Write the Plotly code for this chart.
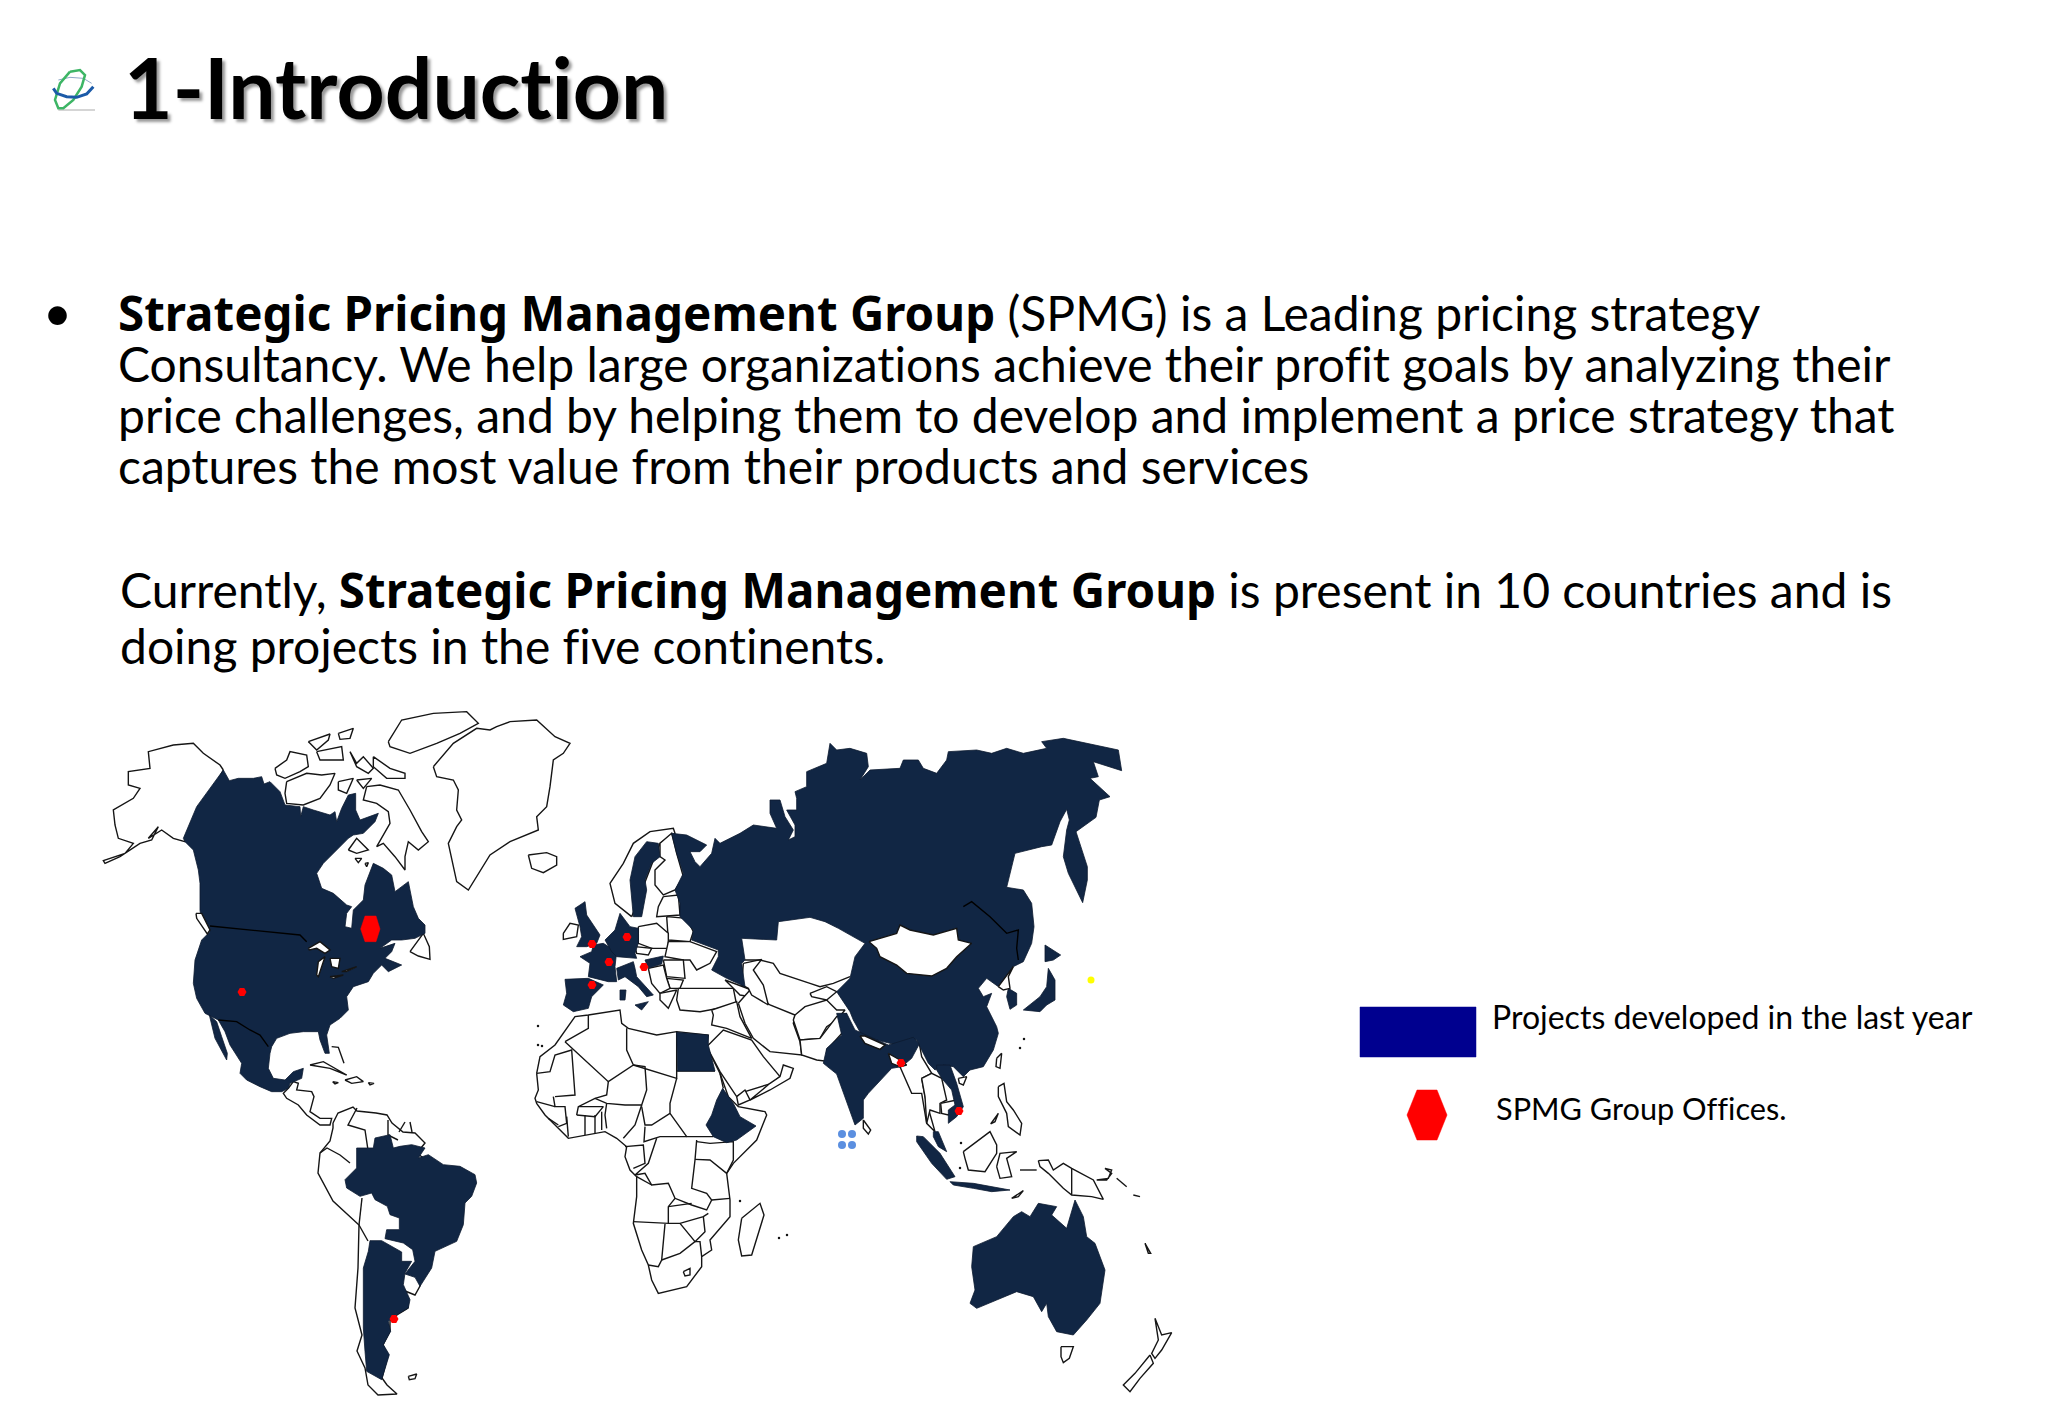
# -*- coding: utf-8 -*-
# 1-Introduction slide - SPMG world map
# No topojson without network, so the map outlines are traced off the picture (px in zoomed crops)

import plotly.graph_objects as go

NAVY = '#112644'
INK = '#151515'
FONT = 'Lato'
BOLD_OPEN = '<span style="font-family:\'Noto Sans\';font-weight:bold;font-size:47.5px">'

# Text
title_text = '1-Introduction'
body_lines = ['<b>Strategic Pricing Management Group</b> (SPMG) is a Leading pricing strategy',
              'Consultancy. We help large organizations achieve their profit goals by analyzing their',
              'price challenges, and by helping them to develop and implement a price strategy that',
              'captures the most value from their products and services']
current_lines = ['Currently, <b>Strategic Pricing Management Group</b> is present in 10 countries and is',
                 'doing projects in the five continents.']
legend_labels = ['Projects developed in the last year', 'SPMG Group Offices.']

# Crop origins, 3x zoom
NA = (90, 710)
SA = (300, 1118)
EU = (520, 820)
AF = (520, 1000)
AS = (670, 730)
OC = (800, 950)

# Offices, picture px
office_x = [242, 592, 627, 609, 592, 644, 901, 959, 394]
office_y = [992, 944, 937, 962, 985, 967, 1063, 1111, 1319]
blue_dot_x = [842, 852, 842, 852]
blue_dot_y = [1134, 1134, 1145, 1145]

# Project countries
usa_canada = [(400,180),(418,212),(445,205),(490,205),(515,200),(522,222),(540,215),(570,245),(585,285),(630,290),
              (632,320),(640,290),(670,300),(720,315),(735,305),(740,335),(755,295),(775,255),(797,250),(797,300),
              (810,330),(865,310),(855,335),(820,370),(790,375),(775,385),(740,420),(700,460),(680,490),(695,535),
              (730,550),(770,585),(785,590),(770,610),(765,650),(785,655),(790,600),(820,570),(825,525),(850,460),
              (880,475),(905,495),(915,545),(955,515),(970,590),(985,625),(1005,645),(1005,670),(975,685),(935,690),
              (905,690),(870,715),(915,700),(905,725),(885,745),(935,765),(895,785),(875,765),(850,790),(835,815),
              (790,830),(770,860),(775,900),(750,925),(720,945),(710,975),(718,1030),(705,1030),(690,990),(685,965),
              (640,965),(600,970),(560,985),(545,1010),(540,1030),(535,1075),(550,1105),(585,1110),(610,1085),
              (640,1075),(635,1105),(600,1120),(595,1135),(575,1145),(545,1145),(510,1130),(470,1110),(450,1090),
              (455,1060),(420,1005),(405,965),(385,930),(355,915),(345,910),(320,865),(310,820),(315,750),(335,690),
              (360,665),(335,640),(330,600),(330,520),(325,480),(310,420),(285,395),(280,385),(320,290),(370,220)]
baja = [(358,915),(375,985),(410,1050),(412,1030),(395,980),(380,935)]
brazil = [(135,185),(170,150),(170,90),(220,90),(225,60),(270,50),(280,90),(300,85),(335,80),(375,90),(355,120),
          (385,110),(430,140),(480,145),(525,170),(530,195),(515,235),(495,255),(490,320),(470,370),(405,400),
          (395,450),(360,505),(345,478),(315,468),(345,430),(338,395),(310,375),(255,362),(260,335),(298,335),
          (298,300),(270,290),(262,265),(225,245),(215,225),(180,235),(140,210)]
argentina = [(210,368),(245,368),(305,402),(305,430),(335,430),(315,465),(310,500),(330,545),(325,570),(290,590),
             (265,610),(272,640),(250,680),(268,710),(245,785),(200,760),(195,700),(190,630),(190,450),(205,400)]
uk = [(165,265),(195,245),(200,285),(240,345),(230,370),(200,380),(170,380),(185,350),(180,320)]
france = [(180,410),(215,395),(220,375),(250,370),(290,395),(285,440),(290,485),(265,485),(205,470),(210,430)]
iberia = [(135,478),(205,475),(250,495),(215,530),(205,565),(160,575),(130,555),(140,520)]
germany_benelux = [(255,360),(285,330),(300,280),(330,320),(355,325),(355,370),(345,400),(350,415),(290,410),(275,395)]
sweden = [(330,180),(345,110),(380,65),(415,70),(420,110),(395,130),(375,180),(380,210),(365,290),(340,290)]
italy = [(290,445),(340,425),(345,445),(350,470),(400,525),(380,530),(355,500),(315,470),(295,480)]
hungary = [(375,420),(430,408),(425,432),(385,445)]
sicily = [(345,555),(385,545),(365,570)]
sardinia = [(300,510),(318,510),(315,540),(300,540)]
eurasia = [(5,310),(50,315),(110,345),(90,365),(60,365),(75,395),(90,410),(125,370),(135,325),(150,340),(210,310),
           (250,285),(320,295),(300,250),(300,210),(330,210),(345,260),(370,300),(355,330),(375,320),(375,285),
           (350,240),(380,240),(380,205),(375,185),(410,170),(410,125),(470,100),(480,40),(500,60),(540,55),(590,70),
           (595,110),(570,150),(600,120),(690,115),(700,90),(745,90),(760,115),(800,130),(830,90),(835,65),(920,60),
           (965,70),(1010,55),(1060,70),(1130,55),(1115,35),(1180,25),(1250,40),(1300,50),(1345,60),(1355,122),
           (1270,95),(1285,140),(1260,145),(1320,200),(1288,210),(1278,262),(1218,305),(1252,410),(1252,450),
           (1238,518),(1195,430),(1180,380),(1190,300),(1198,270),(1190,238),(1170,275),(1145,345),(1115,350),
           (1035,370),(1010,472),(1060,480),(1085,520),(1092,590),(1085,640),(1060,695),(1030,710),(985,770),
           (950,745),(925,775),(940,800),(965,790),(950,830),(980,890),(985,910),(970,960),(940,1010),(900,1020),
           (880,1040),(850,1010),(820,1005),(795,1020),(775,1000),(740,930),(725,925),(680,945),(600,925),(575,915),
           (550,870),(540,845),(500,785),(540,745),(555,680),(585,640),(505,595),(465,575),(420,562),(325,575),
           (320,630),(215,625),(225,690),(215,700),(225,770),(170,745),(125,720),(145,680),(145,660),(65,630),
           (70,600),(30,560),(30,520),(15,480),(40,430),(20,370)]
hokkaido = [(1125,645),(1150,660),(1172,675),(1150,690),(1125,695)]
honshu = [(1135,715),(1155,750),(1155,810),(1130,825),(1110,845),(1060,840),(1110,800),(1130,770)]
south_korea = [(1015,775),(1040,790),(1040,825),(1020,838),(1010,800)]
india = [(110,190),(140,190),(165,240),(265,285),(340,262),(358,282),(335,325),(305,350),(275,355),(205,430),(190,450),
         (190,505),(165,525),(135,440),(110,372),(70,340),(80,295),(125,255)]
vietnam = [(410,345),(450,345),(470,400),(490,470),(470,500),(445,520),(445,480),(465,465),(455,420),(425,385),(410,360)]
malay = [(400,545),(415,545),(440,605),(415,590),(400,560)]
sumatra = [(350,558),(370,560),(420,610),(465,680),(440,688),(395,640),(350,575)]
java = [(450,695),(520,700),(630,720),(575,725),(520,715),(460,705)]
australia = [(515,950),(520,890),(590,860),(640,800),(665,785),(690,800),(715,760),(770,770),(755,795),(800,835),
             (825,750),(850,800),(860,860),(885,880),(915,960),(900,1060),(860,1110),(820,1155),(770,1145),(745,1100),
             (740,1060),(725,1085),(700,1040),(650,1025),(590,1050),(530,1075),(510,1060),(525,1020)]
egypt = [(470,97),(565,105),(565,135),(585,213),(473,213)]
ethiopia = [(608,265),(640,310),(655,340),(660,350),(708,378),(650,420),(620,428),(580,410),(558,375),(575,345),(590,300)]

navy_shapes = [(usa_canada, NA), (baja, NA), (brazil, SA), (argentina, SA), (uk, EU), (france, EU), (iberia, EU),
               (germany_benelux, EU), (sweden, EU), (italy, EU), (hungary, EU), (sicily, EU), (sardinia, EU),
               (eurasia, AS), (hokkaido, AS), (honshu, AS), (south_korea, AS), (india, OC), (vietnam, OC),
               (malay, OC), (sumatra, OC), (java, OC), (australia, OC), (egypt, AF), (ethiopia, AF)]

# White land - North America
alaska = [(400,180),(390,165),(340,130),(310,100),(250,105),(175,125),(180,175),(115,185),(115,225),(150,235),(130,265),
          (70,300),(75,345),(85,385),(130,400),(105,430),(40,452),(45,460),(90,440),(150,400),(185,390),(205,350),
          (175,385),(215,360),(250,385),(285,395)]
greenland = [(1030,170),(1090,100),(1160,55),(1200,60),(1220,50),(1260,35),(1340,30),(1395,80),(1440,100),(1420,130),
             (1390,150),(1380,230),(1370,290),(1340,320),(1345,360),(1260,395),(1200,435),(1165,490),(1135,540),
             (1100,515),(1085,450),(1075,400),(1100,350),(1115,330),(1100,300),(1105,240),(1090,210),(1040,200)]
iceland = [(1315,435),(1370,428),(1400,440),(1400,465),(1360,488),(1325,475)]
arctic_1 = [(555,175),(590,150),(600,125),(650,135),(655,170),(630,185),(585,205),(560,195)]
arctic_2 = [(590,215),(650,190),(695,195),(735,190),(720,225),(690,265),(640,285),(590,280),(585,250)]
arctic_3 = [(655,95),(720,72),(715,90),(680,120),(660,100)]
arctic_4 = [(745,70),(790,55),(780,85),(750,88)]
arctic_5 = [(680,125),(755,110),(760,150),(690,150)]
arctic_6 = [(780,125),(800,160),(820,140),(850,175),(835,190),(800,170)]
ellesmere = [(895,95),(935,30),(1030,10),(1130,5),(1165,40),(1110,70),(1040,100),(960,130),(900,110)]
devon = [(850,140),(900,175),(945,190),(945,205),(890,205),(850,170)]
baffin = [(830,230),(870,225),(925,240),(960,300),(995,365),(1015,395),(985,420),(955,395),(945,440),(945,480),(915,440),
          (880,400),(860,410),(900,340),(895,305),(860,280),(820,270)]
southampton = [(775,420),(800,385),(835,420),(800,430)]
arctic_7 = [(745,215),(790,205),(770,250),(745,240)]
arctic_8 = [(800,210),(845,205),(820,235)]
hudson_1 = [(795,445),(815,445),(805,458)]
hudson_2 = [(825,460),(835,458),(830,470)]
newfoundland = [(960,725),(1000,670),(1018,710),(1020,748),(985,738)]
vancouver = [(318,610),(335,610),(360,660),(352,672),(320,625)]
superior = [(655,715),(690,695),(720,720),(705,730),(680,715),(658,720)]
michigan = [(680,795),(685,755),(705,740),(695,770),(685,800)]
huron = [(720,745),(750,745),(745,775),(725,770)]
erie = [(720,800),(760,795),(730,805)]
ontario = [(755,785),(800,770),(770,785)]
cuba = [(660,1065),(700,1055),(770,1095),(720,1075)]
hispaniola = [(765,1110),(800,1100),(820,1115),(785,1120)]
jamaica = [(728,1115),(745,1118),(735,1122)]
puerto_rico = [(835,1118),(852,1120),(840,1125)]
central_america = [(595,1135),(610,1115),(625,1120),(620,1140),(665,1145),(672,1160),(660,1205),(690,1225),(725,1225),
                   (720,1245),(690,1245),(650,1215),(625,1185),(590,1165),(580,1150)]
south_america = [(333,1123),(338,1113),(353,1107),(357,1111),(376,1113),(387,1115),(392,1123),(403,1132),(415,1133),
                 (425,1143),(417,1153),(432,1165),(432,1225),(420,1286),(415,1295),(405,1291),(408,1300),(408,1308),
                 (397,1315),(390,1321),(390,1331),(383,1345),(388,1355),(382,1378),(387,1385),(397,1394),(378,1395),
                 (368,1385),(365,1368),(357,1351),(362,1335),(355,1308),(358,1268),(359,1225),(333,1201),(318,1173),
                 (320,1153),(330,1141),(333,1128)]
falkland = [(325,775),(350,768),(345,782),(328,785)]

# White land - Europe, Middle East (EU crop)
norway = [(335,290),(285,250),(270,190),(310,130),(340,70),(390,35),(460,25),(465,40),(420,70)]
finland = [(420,70),(455,40),(470,100),(490,170),(465,210),(430,225),(405,195),(405,150),(435,120),(420,110)]
baltics = [(430,230),(475,225),(480,285),(410,290),(415,260)]
belarus = [(440,290),(500,295),(520,335),(510,365),(445,360)]
poland = [(355,320),(410,310),(445,340),(445,385),(395,385),(355,370)]
czech = [(345,380),(395,385),(385,405),(350,400)]
ireland = [(130,340),(150,310),(175,315),(170,350),(130,358)]
ukraine = [(445,365),(510,365),(590,395),(570,430),(530,450),(510,420),(490,420),(435,410)]
romania = [(430,420),(490,420),(495,475),(440,470)]
bulgaria = [(440,475),(490,480),(480,505),(450,505)]
balkans = [(385,445),(430,435),(440,475),(450,505),(420,520),(395,490)]
greece = [(420,520),(470,510),(445,565),(420,540)]
turkey = [(475,505),(640,505),(650,555),(590,565),(540,575),(480,570),(470,540)]
caucasus = [(615,480),(670,500),(695,510),(690,530),(660,525),(640,505)]
syria_iraq = [(575,570),(650,545),(660,590),(695,655),(620,625),(575,615),(580,585)]
saudi = [(560,680),(610,630),(695,660),(730,710),(780,770),(755,790),(675,815),(650,830),(600,755)]
yemen = [(650,830),(675,810),(690,840),(655,855)]
oman = [(690,840),(750,790),(780,770),(790,735),(820,745),(810,775),(750,810)]

# White land - Africa (AF crop)
africa = [(50,220),(60,170),(105,135),(145,80),(165,50),(205,45),(300,30),(305,70),(325,85),(410,105),(470,95),(565,105),
          (560,140),(600,220),(625,290),(655,320),(735,335),(740,345),(710,420),(640,490),(620,520),(630,600),(630,650),
          (570,720),(575,750),(545,770),(545,800),(500,860),(415,880),(395,840),(385,795),(365,750),(340,670),(350,590),
          (350,530),(330,510),(315,470),(320,440),(290,415),(255,395),(195,405),(145,415),(115,385),(75,345),(50,310),
          (45,295),(55,270)]
madagascar = [(665,655),(720,610),(732,645),(695,765),(665,768),(655,720)]
lesotho = [(490,815),(510,805),(510,825),(495,828)]

# White land - Asia
mongolia = [(597,635),(680,610),(690,585),(720,600),(790,615),(860,595),(865,630),(905,640),(860,680),(830,715),(785,738),
            (710,730),(680,705),(630,680),(620,655)]
north_korea = [(985,770),(1030,710),(1015,740),(1020,775),(1000,780)]
taiwan = [(980,985),(995,970),(990,1015),(978,1010)]
hainan = [(865,1045),(890,1040),(880,1065),(868,1060)]
iran = [(205,820),(240,780),(300,825),(375,855),(370,880),(390,935),(395,975),(340,970),(300,965),(250,925),(225,880)]
afghanistan = [(375,855),(405,830),(470,810),(500,840),(525,840),(500,870),(470,890),(450,925),(390,930),(370,870)]
pakistan = [(390,930),(450,925),(500,860),(530,850),(510,880),(520,905),(470,960),(480,995),(440,990),(395,975)]
kyrgyz = [(420,790),(470,770),(500,785),(470,810),(425,800)]
caspian = [(220,700),(275,688),(250,720),(280,765),(295,825),(245,795),(235,775),(215,765)]
nepal = [(180,258),(195,258),(255,285),(240,298),(195,280)]
bangladesh = [(265,310),(300,330),(320,345),(300,350),(275,340)]
myanmar = [(330,295),(358,280),(365,320),(395,370),(365,385),(375,440),(395,510),(405,545),(380,520),(365,430),(335,430),(300,350)]
thailand = [(365,385),(395,370),(425,385),(440,450),(420,460),(420,490),(390,480),(380,520),(375,440)]
cambodia = [(422,460),(470,450),(465,475),(445,495),(425,490)]
borneo = [(490,605),(570,545),(590,585),(590,610),(555,665),(505,660),(495,625)]
sulawesi = [(590,650),(600,610),(650,605),(620,625),(635,680),(600,685)]
philippines = [(595,410),(612,400),(620,455),(640,480),(665,520),(660,555),(625,530),(620,490),(595,440)]
palawan = [(572,522),(595,490),(585,515)]
new_guinea = [(715,632),(745,630),(760,660),(790,640),(815,655),(880,690),(910,748),(875,740),(815,735),(790,715),(745,670),(720,650)]
new_britain = [(890,690),(925,685),(935,660),(915,655),(935,670),(920,690)]
timor = [(635,745),(670,722),(655,740)]
sri_lanka = [(190,510),(212,540),(205,552),(190,535)]
tasmania = [(783,1190),(820,1190),(808,1225),(790,1238),(783,1220)]
nz_north = [(1065,1105),(1085,1155),(1115,1148),(1085,1200),(1065,1225),(1055,1210),(1075,1170)]
nz_south = [(1050,1215),(1060,1240),(1020,1285),(990,1325),(970,1305),(1005,1270)]
new_caledonia = [(1035,880),(1052,910),(1045,910)]

white_under = [(alaska, NA), (central_america, NA), (south_america, (0, 0)), (falkland, SA), (africa, AF), (madagascar, AF),
               (norway, EU), (finland, EU), (baltics, EU), (belarus, EU), (poland, EU), (czech, EU), (ireland, EU),
               (ukraine, EU), (romania, EU), (bulgaria, EU), (balkans, EU), (greece, EU), (turkey, EU), (caucasus, EU),
               (syria_iraq, EU), (saudi, EU), (yemen, EU), (oman, EU), (iran, AS), (afghanistan, AS), (pakistan, AS),
               (kyrgyz, AS), (caspian, AS), (myanmar, OC), (thailand, OC), (cambodia, OC), (borneo, OC), (sulawesi, OC),
               (philippines, OC), (palawan, OC), (new_guinea, OC), (new_britain, OC), (timor, OC), (sri_lanka, OC),
               (tasmania, OC), (nz_north, OC), (nz_south, OC), (new_caledonia, OC), (greenland, NA), (iceland, NA),
               (arctic_1, NA), (arctic_2, NA), (arctic_3, NA), (arctic_4, NA), (arctic_5, NA), (arctic_6, NA),
               (ellesmere, NA), (devon, NA), (baffin, NA), (southampton, NA), (arctic_7, NA), (arctic_8, NA),
               (hudson_1, NA), (hudson_2, NA), (newfoundland, NA), (cuba, NA), (hispaniola, NA), (jamaica, NA),
               (puerto_rico, NA), (lesotho, AF)]
white_over = [(vancouver, NA), (superior, NA), (michigan, NA), (huron, NA), (erie, NA), (ontario, NA),
              (mongolia, AS), (north_korea, AS), (taiwan, AS), (hainan, AS), (nepal, OC), (bangladesh, OC)]

# Borders, open lines
can_us = [(360,648),(630,675),(650,695)]
us_mex = [(385,930),(440,935),(480,960),(510,975),(535,1010)]
ru_cn = [(880,530),(905,515),(960,560),(1010,610),(1045,600),(1040,655),(1045,690)]
png_line = [(815,655),(815,735)]
kazakh_south = [(225,690),(270,690),(310,700),(330,730),(420,760),(450,770),(490,760),(540,740)]
bahamas = [(725,1010),(745,1012),(762,1060)]
flores = [(660,660),(710,660)]
solomon_1 = [(950,685),(980,710)]
solomon_2 = [(1000,735),(1020,740)]
sa_lines = [[(357,1108),(348,1125),(365,1130),(368,1150),(388,1147)], [(388,1120),(388,1135),(398,1140)],
            [(399,1132),(405,1122)], [(410,1122),(412,1132)], [(320,1153),(327,1148),(340,1155),(350,1163)],
            [(359,1225),(362,1198)], [(359,1225),(368,1241)]]
africa_lines = [[(135,125),(205,85),(205,45)], [(50,220),(90,215),(105,165),(155,150),(165,285),(105,290)],
                [(135,125),(265,245),(340,195),(320,150),(320,85)], [(265,245),(260,285),(225,295),(175,320),(170,345)],
                [(340,195),(375,200),(380,270),(365,315),(315,315),(260,310),(225,295)], [(340,195),(470,235),(470,95)],
                [(470,235),(450,310),(450,340),(395,375),(375,375),(365,320)], [(470,213),(585,213)],
                [(450,340),(500,410),(580,410)], [(375,380),(372,425),(420,410),(500,410)],
                [(365,315),(345,375),(310,415)], [(260,310),(255,345),(260,385)],
                [(410,415),(385,490),(345,525),(375,520),(395,555),(445,550),(465,595),(515,615),(560,630),(575,600),
                 (560,580),(515,565),(525,480),(530,420)],
                [(530,425),(570,430),(640,425),(640,480),(620,520)], [(525,478),(570,480),(620,520)],
                [(575,600),(630,595)], [(350,530),(395,555)], [(465,595),(445,620),(445,670),(340,665)],
                [(445,620),(515,610)], [(445,670),(480,670),(550,650),(565,640)], [(435,672),(425,780),(415,800),(385,795)],
                [(480,670),(525,725),(480,760),(425,780)], [(525,725),(555,695),(550,650)], [(525,725),(540,725),(545,770)],
                [(175,320),(250,320),(225,350),(170,345)], [(195,345),(195,405)], [(225,345),(225,400)], [(245,335),(245,390)],
                [(140,350),(145,410)], [(100,290),(105,320),(135,320),(140,370),(115,380)], [(50,305),(105,320)],
                [(85,355),(115,375)], [(315,440),(370,435),(375,490),(340,505)], [(600,220),(610,265)]]

# Tiny islands, picture px
islet_x = [538, 538, 542, 740, 779, 787, 1024, 1020, 961, 960]
islet_y = [1026, 1045, 1046, 1201, 1238, 1235, 1039, 1048, 1143, 1168]

# Logo, zoom of (30,40)
logo_blue = [(70,145),(80,160),(110,170),(140,172),(170,162),(190,140)]
logo_blue_top = [(85,120),(120,112),(160,115),(185,130)]
logo_green = [(120,95),(150,90),(165,105),(155,140),(130,180),(100,205),(85,205),(75,180),(90,130),(120,95)]
logo_base = [(85,210),(195,210)]

# Legend, picture px
legend_rect_x = [1360, 1476, 1476, 1360]
legend_rect_y = [1007, 1007, 1057, 1057]
legend_hex_x = [1417, 1437, 1447, 1437, 1417, 1407]
legend_hex_y = [1090, 1090, 1115, 1140, 1140, 1115]
canada_hex = [(825,618),(858,618),(870,657),(858,695),(825,695),(812,657)]


def to_px(points, crop):
    # crop (0,0) means the points are picture px already
    if crop == (0, 0):
        return [p[0] for p in points], [p[1] for p in points]
    return [crop[0] + p[0] / 3 for p in points], [crop[1] + p[1] / 3 for p in points]


def add_shape(fig, points, crop, fill, line_color=INK, width=1.4):
    xs, ys = to_px(points, crop)
    fig.add_trace(go.Scatter(x=xs + xs[:1], y=ys + ys[:1], mode='lines', fill='toself', fillcolor=fill,
                             line=dict(color=line_color, width=width), hoverinfo='skip'))


def add_line(fig, points, crop, color=INK, width=1.4):
    xs, ys = to_px(points, crop)
    fig.add_trace(go.Scatter(x=xs, y=ys, mode='lines', line=dict(color=color, width=width), hoverinfo='skip'))


def add_text(fig, text, x, y, size, family=FONT, shadow=None):
    fig.add_annotation(x=x, y=y, xref='x', yref='y', text=text, showarrow=False, xanchor='left', yanchor='middle',
                       align='left', font=dict(family=family, size=size, color='black', shadow=shadow or 'none'))


fig = go.Figure()

# Map
for points, crop in white_under:
    add_shape(fig, points, crop, 'white')
add_line(fig, kazakh_south, AS)
for points in [flores, solomon_1, solomon_2]:
    add_line(fig, points, OC)
add_line(fig, bahamas, NA)
for points in sa_lines:
    add_line(fig, points, (0, 0))
for points in africa_lines:
    add_line(fig, points, AF)
for points, crop in navy_shapes:
    add_shape(fig, points, crop, NAVY, line_color='#0c1a30', width=0.8)
for points, crop in white_over:
    add_shape(fig, points, crop, 'white')
add_line(fig, can_us, NA, 'black')
add_line(fig, us_mex, NA, 'black')
add_line(fig, ru_cn, AS, 'black')
add_line(fig, png_line, OC)
fig.add_trace(go.Scatter(x=islet_x, y=islet_y, mode='markers', hoverinfo='skip', marker=dict(color=INK, size=2.5)))

# Offices and odd dots
add_shape(fig, canada_hex, NA, 'red', line_color='red', width=0.5)
fig.add_trace(go.Scatter(x=office_x, y=office_y, mode='markers', hoverinfo='skip',
                         marker=dict(symbol='hexagon2', color='red', size=9)))
fig.add_trace(go.Scatter(x=blue_dot_x, y=blue_dot_y, mode='markers', hoverinfo='skip',
                         marker=dict(color='#5b8fe0', size=8)))
fig.add_trace(go.Scatter(x=[1091], y=[980], mode='markers', hoverinfo='skip', marker=dict(color='#ffff00', size=7)))

# Logo
LOGO = (30, 40)
add_line(fig, logo_base, LOGO, '#d5d5d5', 2)
add_line(fig, logo_blue_top, LOGO, '#8fa8c8', 1)
add_line(fig, logo_green, LOGO, '#3db565', 2.5)
add_line(fig, logo_blue, LOGO, '#1b5aa8', 3)

# Legend
fig.add_trace(go.Scatter(x=legend_rect_x + legend_rect_x[:1], y=legend_rect_y + legend_rect_y[:1], mode='lines',
                         fill='toself', fillcolor='#00008f', line=dict(color='#00008f', width=0.5), hoverinfo='skip'))
fig.add_trace(go.Scatter(x=legend_hex_x + legend_hex_x[:1], y=legend_hex_y + legend_hex_y[:1], mode='lines',
                         fill='toself', fillcolor='red', line=dict(color='red', width=0.5), hoverinfo='skip'))
add_text(fig, legend_labels[0], 1490, 1016, 32)
add_text(fig, legend_labels[1], 1494, 1108, 30.7)

# Title with shadow
add_text(fig, '<b>' + title_text + '</b>', 122, 86, 84, shadow='3px 3px 3px #999999')

# Body text
add_text(fig, '•', 41, 312, 50)
for line, y in zip(body_lines, [312, 363, 414, 465]):
    add_text(fig, line.replace('<b>', BOLD_OPEN).replace('</b>', '</span>'), 116, y, 48)
for line, y in zip(current_lines, [589, 645]):
    add_text(fig, line.replace('<b>', BOLD_OPEN).replace('</b>', '</span>'), 118, y, 48)

fig.update_xaxes(range=[0, 2048], visible=False, fixedrange=True)
fig.update_yaxes(range=[1418, 0], visible=False, fixedrange=True)
fig.update_layout(width=2048, height=1418, margin=dict(l=0, r=0, t=0, b=0), showlegend=False,
                  paper_bgcolor='white', plot_bgcolor='white')

# Page margin off, no ti/fi ligatures
page_fix = ("document.body.style.margin='0';var s=document.createElement('style');"
            "s.textContent='text,tspan{font-variant-ligatures:none !important}';document.head.appendChild(s);")
fig.write_html("out.html", post_script=page_fix, config=dict(displayModeBar=False))
